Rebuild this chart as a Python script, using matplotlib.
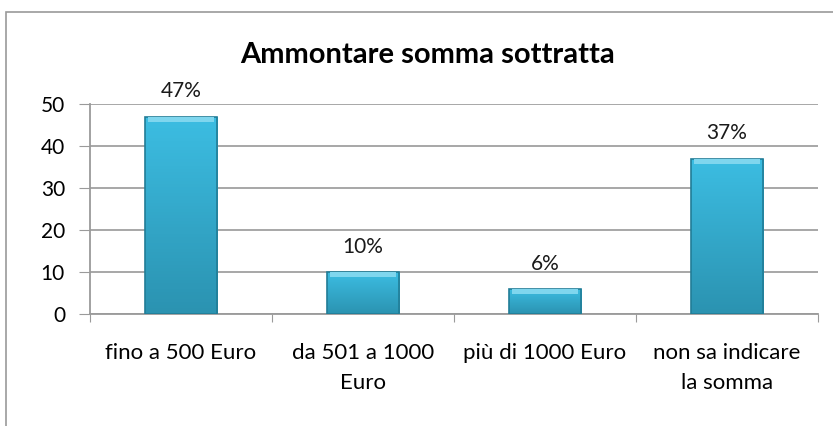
import numpy as np
import matplotlib.pyplot as plt
from matplotlib.patches import Rectangle
from matplotlib.colors import LinearSegmentedColormap

categories = ['fino a 500 Euro', 'da 501 a 1000\nEuro', 'più di 1000 Euro', 'non sa indicare\nla somma']
values = [47, 10, 6, 37]
labels = ['47%', '10%', '6%', '37%']
title = 'Ammontare somma sottratta'

plt.rcParams['font.family'] = ['Lato', 'DejaVu Sans']

fig = plt.figure(figsize=(8.33, 4.26), dpi=100)
W, H = 833, 426

# outer chart frame (only top and left visible in the reference)
fig.patches.append(Rectangle((6 / W, -0.1), 1.2, (H - 12) / H + 0.1,
                             transform=fig.transFigure, fill=False,
                             edgecolor='#9a9a9a', linewidth=1.2))

ax = fig.add_axes([90 / W, (H - 314) / H, (818 - 90) / W, (314 - 104) / H])

x = np.arange(len(categories))
bw = 0.4
cmap = LinearSegmentedColormap.from_list('bar', ['#2b93b1', '#3cbde2'])
grad = np.linspace(0, 1, 64).reshape(-1, 1)
bars = ax.bar(x, values, width=bw, color='none', edgecolor='#217d97', linewidth=1.2, zorder=4)
for b in bars:
    x0, y0 = b.get_x(), b.get_y()
    im = ax.imshow(grad, cmap=cmap, origin='lower', aspect='auto', zorder=3,
                   extent=[x0, x0 + b.get_width(), y0, y0 + b.get_height()])
    im.set_clip_path(b)
# light top bevel
ax.bar(x, [1.2] * len(values), bottom=np.array(values) - 1.2, width=bw * 0.92,
       color='#7fd6ee', edgecolor='none', zorder=5)

for xi, v, lab in zip(x, values, labels):
    ax.text(xi, v + 6.0, lab, ha='center', va='center', fontsize=15, color='#1a1a1a')

ax.set_xlim(-0.5, len(categories) - 0.5)
ax.set_ylim(0, 50)
ax.set_yticks(range(0, 51, 10))
ax.yaxis.grid(True, color='#a0a0a0', linewidth=1.3, zorder=0)
ax.set_axisbelow(True)

ax.set_xticks(np.arange(-0.5, len(categories), 1.0), minor=False)
ax.set_xticklabels([])
ax.set_xticks(x, minor=True)
ax.set_xticklabels(categories, minor=True, fontsize=16, linespacing=1.6)
ax.tick_params(axis='x', which='minor', length=0, pad=21)
ax.tick_params(axis='x', which='major', length=6, color='#9a9a9a', direction='out')
ax.tick_params(axis='y', length=8, color='#9a9a9a', labelsize=15, pad=10)

for s in ['top', 'right']:
    ax.spines[s].set_visible(False)
ax.spines['left'].set_color('#9a9a9a')
ax.spines['bottom'].set_color('#9a9a9a')
ax.spines['left'].set_linewidth(1.3)
ax.spines['bottom'].set_linewidth(1.3)

fig.text(428 / W, 1 - 55 / H, title, ha='center', va='center', fontsize=21, fontweight='bold')

fig.savefig('out.png', dpi=100)
